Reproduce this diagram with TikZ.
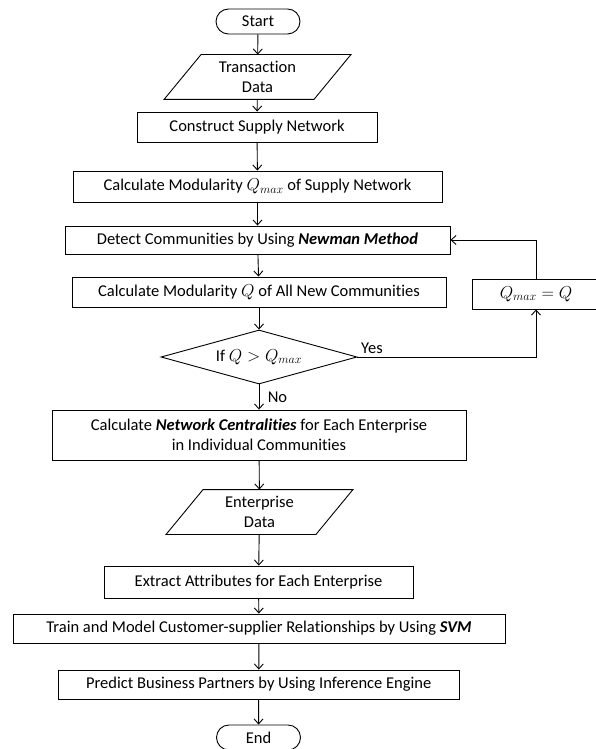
\documentclass[tikz,border=0pt]{standalone}
\usepackage{fontspec}
\setmainfont{Carlito}[Ligatures=NoCommon]
\usetikzlibrary{shapes.geometric,shapes.misc,arrows.meta}
\tikzset{
  box/.style={draw, rectangle, inner sep=0pt, align=center},
  term/.style={draw, rounded rectangle, minimum width=84pt, minimum height=25pt, inner sep=0pt},
  io/.style={inner sep=0pt, minimum width=149pt, minimum height=44pt, align=center,
    append after command={\pgfextra{\draw ([xshift=-18.5pt]\tikzlastnode.south west)
      -- ([xshift=18.5pt]\tikzlastnode.north west) -- ([xshift=18.5pt]\tikzlastnode.north east)
      -- ([xshift=-18.5pt]\tikzlastnode.south east) -- cycle;}}},
  cond/.style={draw, diamond, aspect=3.63, minimum width=196pt, minimum height=54pt, inner sep=0pt},
  flow/.style={-{Straight Barb[length=5pt,width=9pt]}}
}
\begin{document}
\begin{tikzpicture}[x=1pt,y=-1pt,line width=0.9pt,
    every node/.append style={font=\fontsize{16.5}{20}\selectfont}]
  \useasboundingbox (0,0) rectangle (595,749);
  \node[term] (start) at (258,21.5) {Start};
  \node[io] (trans) at (257.5,77) {Transaction\\Data};
  \node[box, minimum width=240pt, minimum height=30pt] (build) at (257,127) {Construct Supply Network};
  \node[box, minimum width=369pt, minimum height=31pt] (qmax) at (257.5,186.5) {Calculate Modularity $Q_{max}$ of Supply Network};
  \node[box, minimum width=385pt, minimum height=28pt] (detect) at (257.5,240) {Detect Communities by Using \textbf{\textit{Newman Method}}};
  \node[box, minimum width=374pt, minimum height=30pt] (calcq) at (259,292) {Calculate Modularity $Q$ of All New Communities};
  \node[box, minimum width=128pt, minimum height=30pt] (update) at (536,294) {$Q_{max}=Q$};
  \node[cond] (test) at (259,357) {If $Q>Q_{max}$};
  \node[box, minimum width=414pt, minimum height=50pt] (centr) at (259,435) {Calculate \textbf{\textit{Network Centralities}} for Each Enterprise\\in Individual Communities};
  \node[io] (ent) at (259.5,512) {Enterprise\\Data};
  \node[box, minimum width=309pt, minimum height=32pt] (attr) at (258.5,582) {Extract Attributes for Each Enterprise};
  \node[box, minimum width=492pt, minimum height=29pt] (train) at (259,628.5) {Train and Model Customer-supplier Relationships by Using \textbf{\textit{SVM}}};
  \node[box, minimum width=401pt, minimum height=29pt] (predict) at (258.7,684.5) {Predict Business Partners by Using Inference Engine};
  \node[term] (stop) at (258.5,737.5) {End};
  % main flow
  \draw[flow] (start) -- (trans);
  \draw[flow] (trans) -- (build);
  \draw[flow] (build) -- (qmax);
  \draw[flow] (qmax) -- (detect);
  \draw[flow] (detect) -- (calcq);
  \draw[flow] (calcq) -- (test);
  \draw[flow] (test) -- (centr) node[midway,right=5pt] {No};
  \draw[flow] (test.east) -| (update.south) node[pos=0,above right] {Yes};
  \draw[flow] (update.north) |- (detect.east);
  \draw[flow] (centr) -- (ent);
  \draw[flow] (ent) -- (attr);
  \draw[flow] (attr) -- (train);
  \draw[flow] (train) -- (predict);
  \draw[flow] (predict) -- (stop);
\end{tikzpicture}
\end{document}
